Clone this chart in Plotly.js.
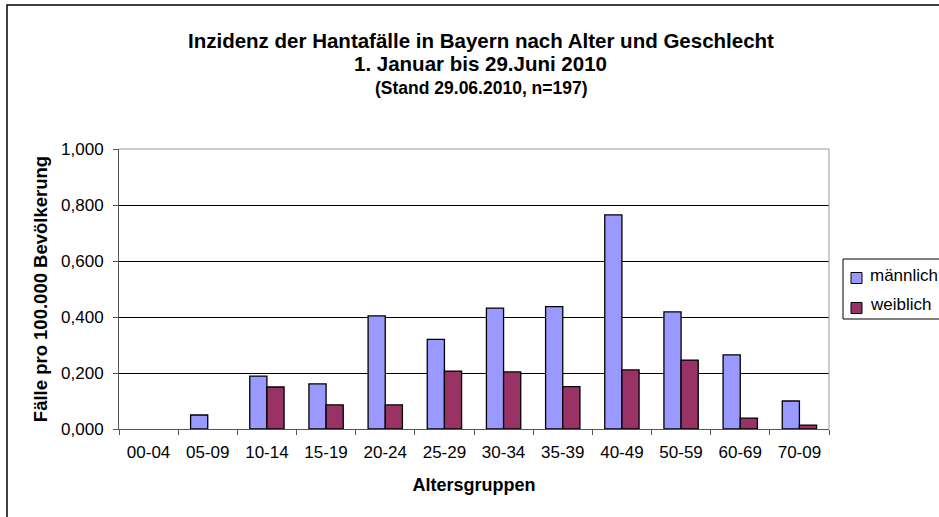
<!DOCTYPE html>
<html>
<head>
<meta charset="utf-8">
<script src="https://cdn.plot.ly/plotly-3.0.1.min.js"></script>
<style>html,body{margin:0;padding:0;background:#fff;overflow:hidden;}#chart{width:939px;height:517px;}</style>
</head>
<body>
<div id="chart"></div>
<script>
const categories = ["00-04","05-09","10-14","15-19","20-24","25-29","30-34","35-39","40-49","50-59","60-69","70-09"];
const maennlich = [0, 0.050, 0.189, 0.161, 0.404, 0.320, 0.432, 0.437, 0.765, 0.418, 0.265, 0.100];
const weiblich  = [0, 0, 0.150, 0.086, 0.086, 0.207, 0.204, 0.151, 0.211, 0.246, 0.039, 0.014];
const seriesNames = ["männlich", "weiblich"];
const yTicks = [0, 0.2, 0.4, 0.6, 0.8, 1.0];

const F = "Liberation Sans, Arial, sans-serif";
const COLORS = ["#9999ff", "#993366"];
const PL = 119, PR = 829, PT = 149, PB = 429;
const px = v => (v - PL) / (PR - PL);
const py = v => (PB - v) / (PB - PT);
const lw = arr => arr.map(v => v === 0 ? 0 : 1.3);

const traces = [maennlich, weiblich].map((ys, i) => ({
  type:"bar", name:seriesNames[i], x:categories, y:ys, showlegend:false,
  marker:{color:COLORS[i], line:{color:"#000", width:lw(ys)}}
}));

// legend drawn with shapes + annotations
const legRows = [{sy:278, ty:275}, {sy:308, ty:304}];
const legendShapes = [
  {type:"rect", xref:"paper", yref:"paper", x0:px(843), x1:px(980), y0:py(319), y1:py(259),
   line:{color:"#000", width:1}, fillcolor:"#fff", layer:"above"}
];
const legendAnn = [];
seriesNames.forEach((n, i) => {
  legendShapes.push({type:"rect", xref:"paper", yref:"paper",
    x0:px(851), x1:px(862), y0:py(legRows[i].sy + 5.5), y1:py(legRows[i].sy - 5.5),
    line:{color:"#000", width:1}, fillcolor:COLORS[i], layer:"above"});
  legendAnn.push({text:n, xref:"paper", yref:"paper", x:px(868), y:py(legRows[i].ty),
    xanchor:"left", yanchor:"middle", showarrow:false, font:{family:F, size:17}});
});

const layout = {
  width:939, height:517,
  margin:{l:119, r:110, t:149, b:88},
  paper_bgcolor:"#fff", plot_bgcolor:"#fff",
  separators:",.",
  barmode:"group", bargap:0.42, bargroupgap:0,
  font:{family:F, size:17, color:"#000"},
  showlegend:false,
  xaxis:{type:"category", tickson:"boundaries", ticks:"outside", ticklen:5,
    tickcolor:"#555", showline:true, linecolor:"#555", linewidth:1,
    showgrid:false, tickfont:{family:F, size:17}, ticklabelstandoff:8,
    title:{text:"<b>Altersgruppen</b>", font:{family:F, size:18}, standoff:16}},
  yaxis:{range:[0,1], tickvals:yTicks, tickformat:".3f", ticks:"outside", ticklen:5,
    tickcolor:"#555", showline:true, linecolor:"#555", linewidth:1,
    showgrid:true, gridcolor:"#000", gridwidth:1, zeroline:false,
    tickfont:{family:F, size:17}, ticklabelstandoff:6,
    title:{text:"<b>Fälle pro 100.000 Bevölkerung</b>", font:{family:F, size:18.5}, standoff:8}},
  annotations:[
    {text:"<b>Inzidenz der Hantafälle in Bayern nach Alter und Geschlecht</b>", xref:"paper", yref:"paper",
     x:px(481), y:py(40), xanchor:"center", yanchor:"middle", showarrow:false, font:{family:F, size:20.5}},
    {text:"<b>1. Januar bis 29.Juni 2010</b>", xref:"paper", yref:"paper",
     x:px(480), y:py(64), xanchor:"center", yanchor:"middle", showarrow:false, font:{family:F, size:20.5}},
    {text:"<b>(Stand 29.06.2010, n=197)</b>", xref:"paper", yref:"paper",
     x:px(481), y:py(88), xanchor:"center", yanchor:"middle", showarrow:false, font:{family:F, size:17.5}}
  ].concat(legendAnn),
  shapes:[
    {type:"line", xref:"paper", yref:"paper", x0:0, x1:1, y0:1, y1:1, line:{color:"#999", width:1}},
    {type:"line", xref:"paper", yref:"paper", x0:1, x1:1, y0:0, y1:1, line:{color:"#999", width:1}},
    {type:"rect", xref:"paper", yref:"paper", x0:px(7), x1:px(990),
     y0:py(530), y1:py(5), line:{color:"#000", width:1.5}, fillcolor:"rgba(0,0,0,0)"}
  ].concat(legendShapes)
};
Plotly.newPlot("chart", traces, layout, {displayModeBar:false, staticPlot:true});
</script>
</body>
</html>
